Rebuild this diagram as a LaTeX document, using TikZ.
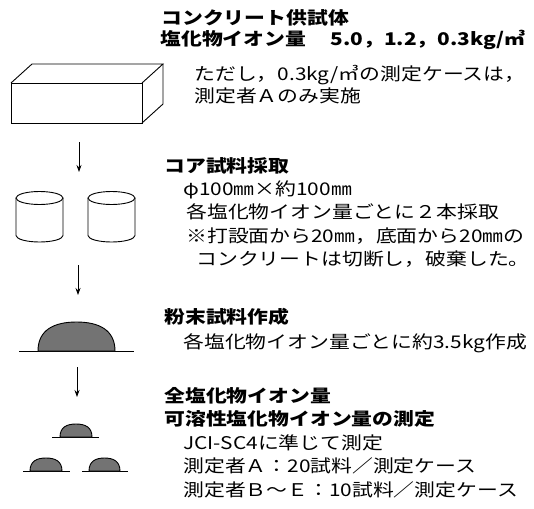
\documentclass[tikz,border=0pt]{standalone}
\usepackage{fontspec}
\usetikzlibrary{arrows.meta}
\newfontfamily\jp[FakeStretch=1.19]{Noto Sans CJK JP}
\newcommand{\headfont}{\jp\bfseries\fontsize{17.5}{20}\selectfont}
\newcommand{\bodyfont}{\jp\fontsize{17.5}{20}\selectfont}
\begin{document}
\begin{tikzpicture}[x=1pt,y=-1pt,line width=0.9pt,
  head/.style={anchor=base west,inner sep=0pt,font=\headfont},
  body/.style={anchor=base west,inner sep=0pt,font=\bodyfont},
  flow/.style={-{Stealth[length=7pt,width=5pt]},line width=0.8pt},
  powder/.style={fill=black!55,draw=black,line width=0.9pt},
  ground/.style={line width=0.9pt}]
\useasboundingbox (0,0) rectangle (534,508);

% concrete specimen (box)
\draw (11,83) rectangle (142,123);
\draw (11,83) -- (32,64) -- (163,64) -- (142,83);
\draw (163,64) -- (163,104) -- (142,123);

% core samples (two cylinders)
\foreach \cx in {39.5,111.5}{
  \draw (\cx-23.5,198) -- (\cx-23.5,235.5) arc (180:0:23.5 and 6.5) -- (\cx+23.5,198);
  \draw (\cx,198) ellipse (23.5 and 6.5);
}

% powder sample (dome on a base line)
\draw[ground] (19,351) -- (134,351);
\draw[powder] (38,351) .. controls (38,330) and (54,322) .. (76.5,322)
  .. controls (99,322) and (115,330) .. (115,351) -- cycle;

% small powder portions
\draw[ground] (52,437) -- (99,437);
\draw[powder] (60,437) .. controls (60,427) and (67,424) .. (76,424)
  .. controls (85,424) and (92,427) .. (92,437) -- cycle;
\draw[ground] (23,471) -- (70,471);
\draw[powder] (30,471) .. controls (30,461) and (37,458) .. (46,458)
  .. controls (55,458) and (62,461) .. (62,471) -- cycle;
\draw[ground] (82,471) -- (128,471);
\draw[powder] (89,471) .. controls (89,461) and (96,458) .. (104.5,458)
  .. controls (113,458) and (120,461) .. (120,471) -- cycle;

% flow arrows
\coordinate (a1s) at (79,142); \coordinate (a1e) at (79,172);
\coordinate (a2s) at (78,265); \coordinate (a2e) at (78,295);
\coordinate (a3s) at (77,367); \coordinate (a3e) at (77,397);
\draw[flow] (a1s) -- (a1e);
\draw[flow] (a2s) -- (a2e);
\draw[flow] (a3s) -- (a3e);

% texts
\node[head] (t1) at (161,25) {コンクリート供試体};
\node[head] (t2) at (160,46) {塩化物イオン量};
\node[head,anchor=base east] (t2b) at (526,46) {5.0，1.2，0.3kg/㎥};
\node[body] (t3) at (194,81) {ただし，0.3kg/㎥の測定ケースは，};
\node[body] (t4) at (194,102) {測定者Ａのみ実施};

\node[head] (t5) at (164,172) {コア試料採取};
\node[body] (t6) at (183,195) {φ100㎜×約100㎜};
\node[body] (t7) at (186,218) {各塩化物イオン量ごとに２本採取};
\node[body] (t8) at (186,242) {※打設面から20㎜，底面から20㎜の};
\node[body] (t9) at (196,265) {コンクリートは切断し，破棄した。};

\node[head] (t10) at (164,323) {粉末試料作成};
\node[body] (t11) at (183,348) {各塩化物イオン量ごとに約3.5kg作成};

\node[head] (t12) at (164,402) {全塩化物イオン量};
\node[head] (t13) at (164,425) {可溶性塩化物イオン量の測定};
\node[body] (t14) at (183,449) {JCI-SC4に準じて測定};
\node[body] (t15) at (183,472) {測定者Ａ：20試料／測定ケース};
\node[body] (t16) at (183,496) {測定者Ｂ～Ｅ：10試料／測定ケース};
\end{tikzpicture}
\end{document}
